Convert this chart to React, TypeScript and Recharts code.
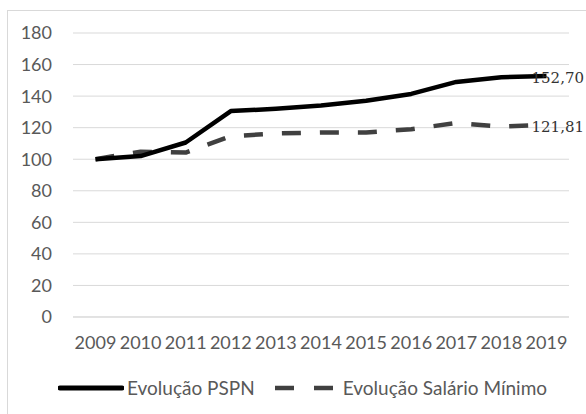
import React from "react";
import { LineChart, Line, XAxis, YAxis, CartesianGrid, Legend } from "recharts";

const years = ["2009", "2010", "2011", "2012", "2013", "2014", "2015", "2016", "2017", "2018", "2019"];
const pspn = [100, 102, 110.6, 130.5, 132, 134, 137, 141.4, 149, 152, 152.7];
const salario = [100, 104.8, 104.2, 114.6, 116.3, 117, 117, 119, 123, 120.7, 121.81];
const yTicks = [0, 20, 40, 60, 80, 100, 120, 140, 160, 180];

const data = years.map((y, i) => ({ year: y, pspn: pspn[i], salario: salario[i] }));

const AXIS_COLOR = "#595959";
const GRID_COLOR = "#d9d9d9";

const fmt = (v: number) => v.toFixed(2).replace(".", ",");

const makeLastLabel = (len: number) => (props: any) => {
  const { x, y, value, index } = props;
  if (index !== len - 1) return null;
  return (
    <text
      x={x - 15}
      y={y + 2}
      dominantBaseline="central"
      fontFamily="'DejaVu Serif', serif"
      fontSize={15}
      fill="#333"
    >
      {fmt(Number(value))}
    </text>
  );
};

const LegendContent = () => (
  <div
    style={{
      display: "flex",
      alignItems: "center",
      paddingLeft: 58,
      fontFamily: "Lato, sans-serif",
      fontSize: 19,
      color: AXIS_COLOR,
      whiteSpace: "nowrap",
    }}
  >
    <svg width={66} height={10} style={{ display: "block" }}>
      <line x1={2} y1={5} x2={64} y2={5} stroke="#000" strokeWidth={5} strokeLinecap="round" />
    </svg>
    <span style={{ marginLeft: 3 }}>Evolução PSPN</span>
    <svg width={66} height={10} style={{ display: "block", marginLeft: 18 }}>
      <line x1={2} y1={5} x2={64} y2={5} stroke="#404040" strokeWidth={4.5} strokeDasharray="19 20" />
    </svg>
    <span style={{ marginLeft: 4 }}>Evolução Salário Mínimo</span>
  </div>
);

export default function App() {
  return (
    <div style={{ position: "absolute", left: 0, top: 0, width: 586, height: 414, background: "#fff", overflow: "hidden" }}>
      <div
        style={{
          position: "absolute",
          left: 7,
          top: 10,
          width: 700,
          height: 500,
          borderLeft: `1px solid ${GRID_COLOR}`,
          borderTop: `1px solid ${GRID_COLOR}`,
        }}
      />
      <LineChart
        width={586}
        height={414}
        data={data}
        margin={{ top: 33, right: 17, bottom: 0, left: 0 }}
        style={{ position: "absolute", left: 0, top: 0 }}
      >
        <CartesianGrid vertical={false} stroke={GRID_COLOR} strokeWidth={1} />
        <XAxis
          dataKey="year"
          axisLine={{ stroke: GRID_COLOR }}
          tickLine={false}
          tickSize={0}
          tickMargin={19}
          height={57}
          interval={0}
          padding={{ left: 22.5, right: 22.5 }}
          tick={{ fill: AXIS_COLOR, fontSize: 18, fontFamily: "Lato, sans-serif" }}
        />
        <YAxis
          domain={[0, 180]}
          ticks={yTicks}
          axisLine={false}
          tickLine={false}
          tickSize={0}
          tickMargin={21}
          width={73}
          tick={{ fill: AXIS_COLOR, fontSize: 18, fontFamily: "Lato, sans-serif" }}
        />
        <Legend
          verticalAlign="bottom"
          height={40}
          content={<LegendContent />}
          wrapperStyle={{ left: 0, width: 586, top: 376 }}
        />
        <Line
          type="linear"
          dataKey="salario"
          name="Evolução Salário Mínimo"
          stroke="#404040"
          strokeWidth={4.5}
          strokeDasharray="19 19"
          strokeLinejoin="round"
          dot={false}
          isAnimationActive={false}
          label={makeLastLabel(years.length)}
        />
        <Line
          type="linear"
          dataKey="pspn"
          name="Evolução PSPN"
          stroke="#000"
          strokeWidth={4.5}
          strokeLinejoin="round"
          dot={false}
          isAnimationActive={false}
          label={makeLastLabel(years.length)}
        />
      </LineChart>
    </div>
  );
}
